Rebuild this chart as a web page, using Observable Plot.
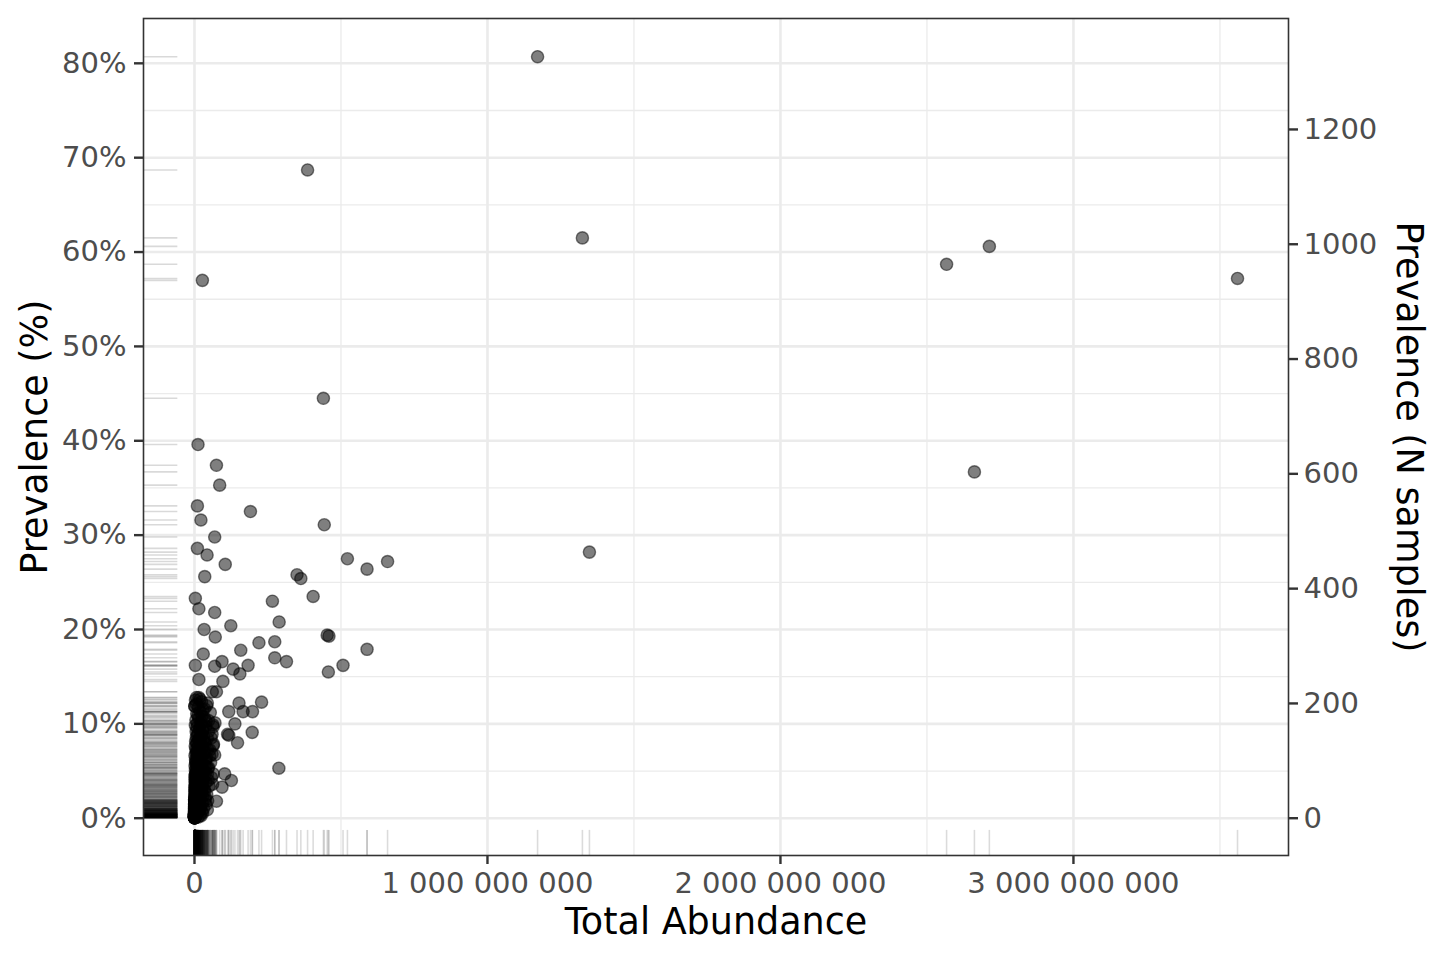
<!DOCTYPE html>
<html>
<head>
<meta charset="utf-8">
<script src="https://cdn.jsdelivr.net/npm/d3@7"></script>
<script src="https://cdn.jsdelivr.net/npm/@observablehq/plot@0.6"></script>
<style>
  html, body { margin: 0; padding: 0; background: #ffffff; }
  #chart svg { display: block; }
</style>
</head>
<body>
<div id="chart"></div>
<script>
// ---------------- data ----------------
const totalSamples = 1644;               // N samples corresponding to 100 %

// scattered (readable) taxa: [total abundance in millions, prevalence %]
const scatteredTaxa = [
  [1171, 80.7], [386, 68.7], [1324, 61.5], [2713, 60.6], [2567, 58.7], [27, 57.0],
  [3560, 57.2], [440, 44.5], [2662, 36.7], [1348, 28.2], [12, 39.6], [75, 37.4],
  [86, 35.3], [10, 33.1], [191, 32.5], [22, 31.6], [443, 31.1], [69, 29.8],
  [10, 28.6], [43, 27.9], [105, 26.9], [522, 27.5], [589, 26.4], [659, 27.2],
  [35, 25.6], [350, 25.8], [363, 25.4], [405, 23.5], [3, 23.3], [266, 23.0],
  [15, 22.2], [69, 21.8], [289, 20.8], [124, 20.4], [33, 20.0], [453, 19.4],
  [459, 19.3], [71, 19.2], [589, 17.9], [220, 18.6], [274, 18.7], [158, 17.8],
  [30, 17.4], [274, 17.0], [314, 16.6], [507, 16.2], [457, 15.5], [94, 16.6],
  [3, 16.2], [69, 16.1], [183, 16.2], [132, 15.8], [155, 15.3], [15, 14.7],
  [97, 14.5], [61, 13.4], [229, 12.3], [152, 12.2], [117, 11.3], [166, 11.3],
  [198, 11.3], [138, 10.0], [197, 9.1], [113, 8.9], [117, 8.8], [147, 8.0],
  [288, 5.3], [103, 4.7], [126, 4.0], [94, 3.3], [64, 4.7], [75, 1.8],
  [44, 0.9], [64, 7.7], [69, 6.7], [64, 9.7], [75, 13.4], [7, 12.8], [1, 11.9]
];

// dense cluster of low-abundance taxa: [total abundance in millions, prevalence %]
const clusterTaxa = [
  [0.1,0.06],[0.2,0.06],[0.05,0.12],[0.3,0.12],[0.1,0.18],[0.6,0.18],[0.2,0.24],[0.4,0.24],
  [0.9,0.3],[0.1,0.3],[0.3,0.36],[1.2,0.36],[0.5,0.43],[0.2,0.43],[0.8,0.49],[1.5,0.49],
  [0.1,0.06],[0.4,0.12],[0.7,0.18],[0.2,0.3],[1.1,0.24],[0.3,0.49],[2.1,0.43],[0.6,0.36],
  [0.15,0.18],[0.9,0.12],[0.35,0.06],[1.8,0.3],[0.25,0.24],[0.5,0.06],[1.3,0.18],[0.45,0.43],
  [2.6,0.49],[0.08,0.12],[0.7,0.3],[3.1,0.36],[0.2,0.36],[1.0,0.06],[0.6,0.49],[0.12,0.24],
  [0.3,0.18],[1.6,0.12],[0.05,0.3],[0.9,0.43],[2.3,0.24],[0.4,0.36],[0.18,0.49],[1.4,0.06],
  [0.55,0.12],[3.8,0.43],[0.22,0.06],[1.9,0.36],[0.65,0.24],[0.1,0.43],[2.8,0.18],[0.32,0.3],
  [1.15,0.49],[0.75,0.06],[4.5,0.3],[0.28,0.12],
  [0.4,0.55],[1.2,0.55],[2.5,0.61],[0.3,0.61],[0.8,0.67],[3.4,0.67],[1.6,0.73],[0.2,0.73],
  [5.1,0.79],[0.9,0.79],[2.2,0.85],[0.5,0.85],[1.4,0.91],[4.2,0.91],[0.7,0.97],[2.9,0.97],
  [6.3,0.61],[0.15,0.67],[1.9,0.73],[3.7,0.85],[0.6,0.55],[7.5,0.79],[1.1,0.91],[2.4,0.67],
  [0.35,0.97],[4.8,0.55],[1.3,0.85],[0.9,0.61],[5.9,0.97],[2.0,0.79],
  [0.8,1.03],[2.7,1.03],[5.4,1.09],[1.5,1.09],[0.4,1.16],[3.6,1.22],[8.2,1.22],[1.9,1.28],
  [0.6,1.34],[4.4,1.34],[2.3,1.4],[9.6,1.4],[1.2,1.46],[6.1,1.52],[3.1,1.58],[0.9,1.58],
  [11.4,1.64],[2.6,1.7],[5.0,1.76],[1.4,1.82],[7.3,1.88],[0.5,1.95],[3.9,1.95],[13.5,1.7],
  [2.1,1.16],[4.9,1.46],[0.3,1.28],[6.8,1.03],[1.7,1.64],[10.2,1.82],[3.3,1.52],[0.7,1.76],
  [8.9,1.95],[2.9,1.34],[15.8,1.58],
  [1.1,2.01],[4.6,2.07],[9.1,2.13],[2.4,2.19],[0.6,2.25],[6.7,2.31],[13.2,2.37],[3.5,2.43],
  [1.8,2.49],[8.0,2.55],[17.6,2.62],[5.2,2.68],[2.7,2.74],[11.0,2.8],[0.9,2.86],[4.1,2.92],
  [7.4,2.98],[21.3,2.25],[3.0,2.62],[14.9,2.86],[1.4,2.37],[25.0,2.74],
  [2.0,3.04],[6.3,3.1],[12.4,3.16],[3.8,3.22],[0.8,3.28],[9.5,3.35],[18.2,3.41],[5.1,3.47],
  [2.6,3.53],[14.0,3.59],[7.7,3.65],[28.5,3.71],[4.3,3.77],[1.5,3.83],[11.2,3.89],[22.0,3.95],
  [3.2,3.41],[33.0,3.1],
  [4.0,4.01],[10.3,4.07],[2.2,4.14],[16.5,4.2],[6.6,4.26],[1.2,4.38],[8.8,4.44],[24.7,4.5],
  [3.4,4.56],[13.1,4.62],[5.5,4.75],[38.0,4.81],[19.6,4.93],[7.9,4.87],[2.8,4.68],
  [3.1,5.05],[9.0,5.11],[15.3,5.23],[5.8,5.35],[26.4,5.41],[1.9,5.54],[11.7,5.6],[7.2,5.72],
  [20.5,5.84],[4.0,5.9],[34.0,5.66],[13.6,5.96],[46.0,5.29],
  [6.0,6.02],[12.8,6.14],[3.6,6.2],[22.3,6.33],[8.4,6.45],[17.0,6.57],[1.7,6.63],[29.8,6.75],
  [10.1,6.87],[5.2,6.93],[41.0,6.39],
  [8.5,7.06],[15.0,7.18],[4.7,7.3],[25.6,7.42],[11.3,7.54],[2.5,7.66],[19.4,7.78],[36.5,7.9],
  [7.0,7.97],[52.0,7.24],
  [10.6,8.03],[3.9,8.15],[20.8,8.27],[14.2,8.4],[6.5,8.58],[31.0,8.7],[9.3,8.82],[24.1,8.94],
  [44.0,8.46],
  [12.5,9.06],[5.6,9.18],[27.5,9.31],[17.8,9.49],[8.1,9.61],[38.5,9.73],[2.9,9.85],[21.7,9.97],
  [9.7,10.04],[23.4,10.22],[4.8,10.4],[15.9,10.58],[32.6,10.7],[11.8,10.89],[48.0,10.34],
  [7.6,11.07],[19.0,11.31],[28.8,11.5],[13.4,11.74],[41.5,11.92],[1.0,11.86],
  [6.2,12.11],[24.5,12.35],[3.3,12.53],[15.1,12.78]
];

// further low-abundance taxa along the right flank of the cluster and near zero prevalence
const clusterFlankTaxa = [
  [12,0.12],[18,0.3],[9,0.49],[25,0.67],[14,0.85],[31,1.03],[20,1.22],[11,1.4],[27,1.58],[16,1.76],
  [36,1.95],[22,0.24],[8,0.73],[40,1.46],[13,1.1],[6,0.4],[19,0.9],[28,0.55],[10,1.65],[45,1.85],
  [0.2,0.06],[0.6,0.12],[1.3,0.24],[0.4,0.3],[2.2,0.36],[0.9,0.49],[0.3,0.55],[1.7,0.61],[0.5,0.73],
  [3.3,0.79],[0.8,0.91],[2.5,0.97],[0.2,1.09],[1.1,1.22],[4.2,1.34],[0.7,1.46],[2.8,1.58],[1.5,1.7],
  [5.5,1.82],[0.4,1.95],[0.1,0.18],[0.9,0.06],[2.0,0.12],[0.3,0.43],[1.2,0.67],[3.9,0.85],[0.6,1.03],
  [2.4,1.28],[0.15,1.52],[6.5,1.76],
  [15,2.1],[28,2.3],[42,2.5],[19,2.7],[35,2.9],[24,3.2],[50,3.4],[17,3.6],[39,3.8],[30,4.1],
  [58,4.3],[21,4.5],[44,4.7],[33,4.9],[12,2.55],[26,3.0],[47,4.0],[9,3.5],[62,3.6],[37,2.2],
  [29,5.1],[48,5.4],[23,5.7],[55,5.9],[38,6.2],[18,6.5],[60,6.8],[33,7.0],[45,7.3],[27,7.6],
  [65,7.85],[40,5.5],[52,6.6],[14,7.1],
  [35,8.1],[57,8.5],[22,8.8],[48,9.2],[30,9.6],[63,9.9],[40,10.3],[26,10.8],[54,11.2],[34,11.6],
  [44,12.2],[19,12.6],[70,10.1],[60,8.9]
];

// axis ticks
const xTicks = [0, 1e9, 2e9, 3e9];
const xMinorTicks = [0.5e9, 1.5e9, 2.5e9, 3.5e9];
const yTicks = [0, 10, 20, 30, 40, 50, 60, 70, 80];
const yMinorTicks = [5, 15, 25, 35, 45, 55, 65, 75];
const nSampleTicks = [0, 200, 400, 600, 800, 1000, 1200];

// ---------------- chart ----------------
const taxa = [...clusterTaxa, ...clusterFlankTaxa, ...scatteredTaxa]
  .map(([m, p]) => ({abundance: m * 1e6, prevalence: p}));

const xDomain = [-174e6, 3734e6];
const yDomain = [-3.95, 84.75];
const rugX2 = xDomain[0] + 0.03 * (xDomain[1] - xDomain[0]);
const rugY2 = yDomain[0] + 0.03 * (yDomain[1] - yDomain[0]);

const grid = "#ebebeb";
const tickFont = 29;
const titleFont = 36.5;
const spaceFormat = d => d3.format(",")(d).replace(/,/g, " ");

const chart = Plot.plot({
  width: 1440,
  height: 960,
  marginLeft: 143,
  marginRight: 152,
  marginTop: 18,
  marginBottom: 105,
  style: {fontFamily: "DejaVu Sans", background: "#ffffff", overflow: "visible"},
  x: {domain: xDomain},
  y: {domain: yDomain},
  marks: [
    Plot.ruleY(yMinorTicks, {stroke: grid, strokeWidth: 1.3}),
    Plot.ruleX(xMinorTicks, {stroke: grid, strokeWidth: 1.3}),
    Plot.ruleY(yTicks, {stroke: grid, strokeWidth: 2.6}),
    Plot.ruleX(xTicks, {stroke: grid, strokeWidth: 2.6}),
    // rugs
    Plot.ruleY(taxa, {y: "prevalence", x1: xDomain[0], x2: rugX2, stroke: "black", strokeOpacity: 0.15, strokeWidth: 1.6}),
    Plot.ruleX(taxa, {x: "abundance", y1: yDomain[0], y2: rugY2, stroke: "black", strokeOpacity: 0.14, strokeWidth: 1.6}),
    // points
    Plot.dot(taxa, {x: "abundance", y: "prevalence", r: 6.1, fill: "black", fillOpacity: 0.5,
                    stroke: "black", strokeOpacity: 0.5, strokeWidth: 1.4}),
    Plot.frame({stroke: "#333333", strokeWidth: 1.6}),
    // axes
    Plot.axisX(xTicks, {anchor: "bottom", label: null, tickSize: 9, tickPadding: 8, tickFormat: spaceFormat,
                        fontSize: tickFont, color: "#4d4d4d", stroke: "#333333", strokeWidth: 2.4}),
    Plot.axisY(yTicks, {anchor: "left", label: null, tickSize: 9, tickPadding: 8, tickFormat: d => d + "%",
                        fontSize: tickFont, color: "#4d4d4d", stroke: "#333333", strokeWidth: 2.4}),
    Plot.axisY(nSampleTicks.map(n => n / totalSamples * 100), {anchor: "right", label: null, tickSize: 9, tickPadding: 6,
                        tickFormat: d => String(Math.round(d / 100 * totalSamples)),
                        fontSize: tickFont, color: "#4d4d4d", stroke: "#333333", strokeWidth: 2.4}),
    // titles
    Plot.text(["Total Abundance"], {text: d => d, frameAnchor: "bottom", dy: 67, lineAnchor: "middle",
                                    textAnchor: "middle", fontSize: titleFont, fill: "black"}),
    Plot.text(["Prevalence (%)"], {text: d => d, frameAnchor: "left", dx: -108, rotate: -90, lineAnchor: "middle",
                                   textAnchor: "middle", fontSize: titleFont, fill: "black"}),
    Plot.text(["Prevalence (N samples)"], {text: d => d, frameAnchor: "right", dx: 120, rotate: 90, lineAnchor: "middle",
                                           textAnchor: "middle", fontSize: titleFont, fill: "black"})
  ]
});

document.getElementById("chart").appendChild(chart);
</script>
</body>
</html>
